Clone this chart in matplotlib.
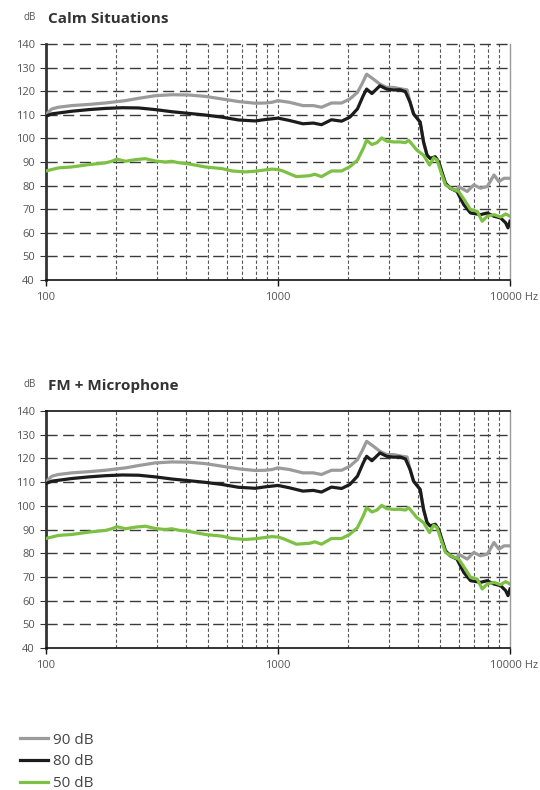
import matplotlib
matplotlib.use("Agg")
import matplotlib.pyplot as plt
from matplotlib.lines import Line2D

plt.rcParams['font.family'] = ['Open Sans', 'DejaVu Sans']

# 90 dB input curve
freq_90 = [100, 102, 106, 113, 129, 153, 180, 220, 251, 296,
           349, 412, 486, 574, 677, 798, 882, 942, 1000, 1120,
           1280, 1420, 1540, 1700, 1880, 2040, 2200, 2300, 2410, 2580,
           2750, 2940, 3150, 3420, 3600, 3710, 3840, 4100, 4240, 4390,
           4530, 4760, 4930, 5270, 5530, 5910, 6010, 6540, 6980, 7460,
           7980, 8530, 8960, 9420, 10000]
db_90 = [110, 111, 112.5, 113.2, 113.9, 114.4, 115, 116, 117, 118.1,
         118.5, 118.4, 117.8, 116.7, 115.6, 114.9, 115, 115.3, 116, 115.3,
         113.9, 113.9, 113.2, 115, 115, 116.7, 119.5, 123, 127.2, 125.1,
         123, 121.6, 121.6, 120.9, 120.6, 115.3, 110.4, 106.9, 98.5, 92.9,
         91.5, 92.2, 90, 81, 78.9, 77.8, 79.6, 77.5, 80.3, 78.9,
         79.6, 84.5, 81.7, 83.1, 83.1]

# 80 dB input curve
freq_80 = [100, 106, 129, 153, 180, 213, 251, 296, 349, 412,
           486, 574, 677, 798, 882, 942, 1000, 1120, 1280, 1420,
           1540, 1700, 1880, 2040, 2200, 2330, 2410, 2540, 2750, 2940,
           3150, 3360, 3540, 3710, 3840, 4100, 4240, 4390, 4530, 4760,
           4930, 5270, 5530, 5910, 6320, 6760, 7460, 7980, 8530, 9110,
           9580, 9800, 10000]
db_80 = [109.4, 110.4, 111.5, 112.2, 112.7, 113, 112.9, 112.2, 111.3, 110.6,
         109.9, 109, 107.8, 107.4, 108, 108.3, 108.6, 107.6, 106.2, 106.5,
         105.8, 107.9, 107.3, 109, 112.5, 118.1, 120.9, 119, 122.3, 120.9,
         120.5, 120.6, 119.8, 115.3, 110.4, 106.9, 98.5, 92.9, 91.5, 92.2,
         90, 81, 78.9, 77.5, 71.9, 68.4, 67.7, 68.4, 67, 66.3,
         64.2, 62.1, 64.9]

# 50 dB input curve
freq_50 = [100, 113, 129, 153, 180, 192, 202, 220, 243, 268,
           296, 327, 349, 373, 412, 486, 574, 634, 723, 798,
           942, 1000, 1050, 1200, 1370, 1440, 1540, 1700, 1880, 2040,
           2200, 2330, 2410, 2540, 2670, 2800, 2940, 3150, 3360, 3540,
           3660, 3970, 4240, 4500, 4690, 4850, 5010, 5270, 5620, 6010,
           6420, 6760, 7220, 7590, 7980, 8530, 9110, 9580, 10000]
db_50 = [86.2, 87.5, 87.9, 88.9, 89.6, 90.3, 91.2, 90.3, 91, 91.4,
         90.4, 90, 90.3, 89.7, 89.2, 87.9, 87.2, 86.2, 85.8, 86.1,
         87, 86.8, 86.2, 83.8, 84.2, 84.8, 83.8, 86.2, 86.2, 88,
         90.8, 95.7, 99.2, 97.4, 98.2, 100.2, 98.8, 98.5, 98.5, 98.2,
         99.2, 95, 92.9, 88.7, 91.8, 90.8, 86.6, 80.3, 78.6, 77.5,
         73.3, 69.8, 69.1, 64.9, 67, 67.7, 66.7, 68, 67]

titles = ["Calm Situations", "FM + Microphone"]
y_ticks = [40, 50, 60, 70, 80, 90, 100, 110, 120, 130, 140]
minor_freqs = [200, 300, 400, 500, 600, 700, 800, 900,
               2000, 3000, 4000, 5000, 6000, 7000, 8000, 9000]

c90, c80, c50 = '#9b9b9b', '#1c1c1c', '#7cc143'
W, H = 540, 790

fig = plt.figure(figsize=(5.4, 7.9), dpi=100)

# axes boxes in pixels: (top, bottom)
boxes = [(44, 280), (411, 648)]
left_px, right_px = 46, 510

for i, (top, bottom) in enumerate(boxes):
    ax = fig.add_axes([left_px / W, 1 - bottom / H, (right_px - left_px) / W, (bottom - top) / H])
    ax.set_xscale('log')
    ax.set_xlim(100, 10000)
    ax.set_ylim(40, 140)

    # grid
    for y in y_ticks[1:-1]:
        ax.axhline(y, color='#3a3a3a', lw=1.0, dashes=(8, 4), zorder=1)
    for f in minor_freqs + [1000]:
        ax.axvline(f, color='#555555', lw=0.8, dashes=(3, 2), zorder=1)
    if i == 0:
        ax.axhline(140, color='#3a3a3a', lw=1.0, dashes=(8, 4), zorder=1, clip_on=False)
        ax.spines['top'].set_visible(False)
    else:
        ax.spines['top'].set_color('#111111')
        ax.spines['top'].set_linewidth(1.2)

    ax.plot(freq_90, db_90, color=c90, lw=2.3, zorder=3, solid_joinstyle='round')
    ax.plot(freq_80, db_80, color=c80, lw=2.3, zorder=4, solid_joinstyle='round')
    ax.plot(freq_50, db_50, color=c50, lw=2.3, zorder=5, solid_joinstyle='round')

    ax.spines['left'].set_color('#333333')
    ax.spines['left'].set_linewidth(2)
    ax.spines['bottom'].set_color('#111111')
    ax.spines['bottom'].set_linewidth(1.2)
    ax.spines['right'].set_color('#999999')
    ax.spines['right'].set_linewidth(1)

    ax.set_yticks(y_ticks)
    ax.set_yticklabels([str(v) for v in y_ticks])
    ax.set_xticks([100, 1000, 10000])
    ax.set_xticklabels(['100', '1000', ''])
    ax.xaxis.set_minor_locator(matplotlib.ticker.NullLocator())
    ax.tick_params(axis='y', length=4, width=0.8, color='#333333', pad=4,
                   labelsize=8, labelcolor='#555555')
    ax.tick_params(axis='x', length=4, width=1, color='#111111', pad=5,
                   labelsize=8, labelcolor='#555555')
    ax.text(1.0 + 28 / (right_px - left_px), -0.075, '10000 Hz', transform=ax.transAxes,
            ha='right', va='center', fontsize=8, color='#555555')

    fig.text(48 / W, 1 - (top - 25) / H, titles[i], fontsize=11, fontweight='bold',
             color='#333333', va='center', ha='left')
    fig.text(24 / W, 1 - (top - 26) / H, 'dB', fontsize=7, color='#555555',
             va='center', ha='left')

handles = [Line2D([], [], color=c90, lw=2.3),
           Line2D([], [], color=c80, lw=2.3),
           Line2D([], [], color=c50, lw=2.3)]
fig.legend(handles, ['90 dB', '80 dB', '50 dB'], loc='upper left',
           bbox_to_anchor=(6 / W, 1 - 719 / H), frameon=False, fontsize=11,
           handlelength=1.83, handletextpad=0.33, labelspacing=0.44,
           labelcolor='#444444')

fig.savefig('out.png', dpi=100)
